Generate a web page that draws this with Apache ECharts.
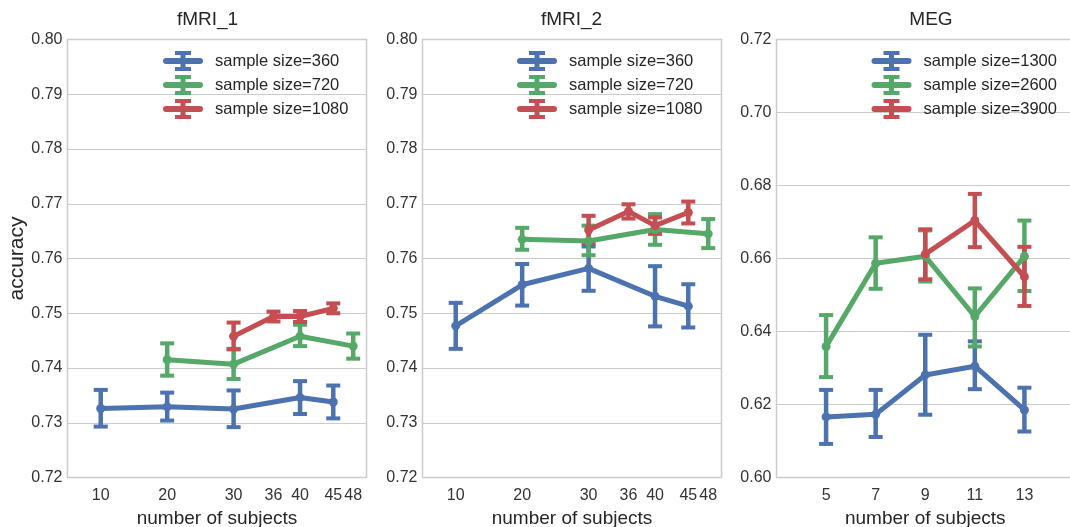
<!DOCTYPE html>
<html>
<head>
<meta charset="utf-8">
<script src="https://cdn.jsdelivr.net/npm/echarts@6/dist/echarts.min.js"></script>
<style>
  html, body { margin: 0; padding: 0; background: #fff; }
  #chart { width: 1070px; height: 527px; }
</style>
</head>
<body>
<div id="chart"></div>
<script>
// ---- data ---------------------------------------------------------------
const panelTitles = ['fMRI_1', 'fMRI_2', 'MEG'];

const fmriTicks = [10, 20, 30, 36, 40, 45, 48];
const megTicks = [5, 7, 9, 11, 13];

const fmriSizes = ['sample size=360', 'sample size=720', 'sample size=1080'];
const megSizes = ['sample size=1300', 'sample size=2600', 'sample size=3900'];

// number of subjects per curve
const fmriSubjects = [[10, 20, 30, 40, 45], [20, 30, 40, 48], [30, 36, 40, 45]];
const megSubjects = [[5, 7, 9, 11, 13], [5, 7, 9, 11, 13], [9, 11, 13]];

// fMRI_1: mean accuracy and confidence interval
const fmri1Mean = [
  [0.7326, 0.7329, 0.7325, 0.7346, 0.7338],
  [0.7415, 0.7407, 0.7458, 0.7440],
  [0.7458, 0.7494, 0.7494, 0.7509]
];
const fmri1Low = [
  [0.7293, 0.7304, 0.7292, 0.7316, 0.7308],
  [0.7386, 0.7380, 0.7440, 0.7417],
  [0.7434, 0.7485, 0.7484, 0.7500]
];
const fmri1High = [
  [0.7360, 0.7355, 0.7359, 0.7376, 0.7368],
  [0.7445, 0.7435, 0.7479, 0.7463],
  [0.7483, 0.7503, 0.7504, 0.7518]
];

// fMRI_2
const fmri2Mean = [
  [0.7477, 0.7552, 0.7582, 0.7531, 0.7513],
  [0.7635, 0.7632, 0.7653, 0.7645],
  [0.7652, 0.7686, 0.7660, 0.7684]
];
const fmri2Low = [
  [0.7435, 0.7514, 0.7541, 0.7476, 0.7474],
  [0.7616, 0.7606, 0.7625, 0.7619],
  [0.7628, 0.7673, 0.7645, 0.7664]
];
const fmri2High = [
  [0.7519, 0.7590, 0.7622, 0.7586, 0.7553],
  [0.7656, 0.7660, 0.7681, 0.7672],
  [0.7678, 0.7699, 0.7675, 0.7704]
];

// MEG
const megMean = [
  [0.6166, 0.6173, 0.6281, 0.6305, 0.6185],
  [0.6359, 0.6587, 0.6606, 0.6441, 0.6606],
  [0.6612, 0.6704, 0.6550]
];
const megLow = [
  [0.6092, 0.6111, 0.6172, 0.6242, 0.6126],
  [0.6275, 0.6517, 0.6537, 0.6359, 0.6511],
  [0.6543, 0.6631, 0.6470]
];
const megHigh = [
  [0.6240, 0.6240, 0.6391, 0.6373, 0.6246],
  [0.6445, 0.6658, 0.6677, 0.6518, 0.6704],
  [0.6680, 0.6777, 0.6632]
];

// ---- style --------------------------------------------------------------
const FONT = '"Liberation Sans", Arial, sans-serif';
const TEXT = '#262626';
const TICK_TEXT = '#333333';
const GRID_LINE = '#cccccc';
const COLORS = ['#4C72B0', '#55A868', '#C44E52'];

// legend glyph: line with an error bar through its middle
const ERR_ICON = 'path://M3,7L37,7A3,3,0,0,1,37,13L3,13A3,3,0,0,1,3,7Z' +
  'M17.5,0L22.5,0L22.5,20L17.5,20Z' +
  'M12,0L28,0L28,4L12,4Z' +
  'M12,16L28,16L28,20L12,20Z';

const panels = [
  { title: panelTitles[0], titleX: 207.5, left: 67.5, width: 299,
    xMin: 5, xMax: 50, xTicks: fmriTicks, yMin: 0.72, yMax: 0.80, yStep: 0.01,
    legendLeft: 163, sizes: fmriSizes, xs: fmriSubjects,
    mean: fmri1Mean, low: fmri1Low, high: fmri1High, yName: 'accuracy' },
  { title: panelTitles[1], titleX: 571.5, left: 422.5, width: 299,
    xMin: 5, xMax: 50, xTicks: fmriTicks, yMin: 0.72, yMax: 0.80, yStep: 0.01,
    legendLeft: 517, sizes: fmriSizes, xs: fmriSubjects,
    mean: fmri2Mean, low: fmri2Low, high: fmri2High, yName: '' },
  { title: panelTitles[2], titleX: 931, left: 776.5, width: 297.5,
    xMin: 3, xMax: 15, xTicks: megTicks, yMin: 0.60, yMax: 0.72, yStep: 0.02,
    legendLeft: 871.5, sizes: megSizes, xs: megSubjects,
    mean: megMean, low: megLow, high: megHigh, yName: '' }
];

function errorBarRenderer(color) {
  return function (params, api) {
    const x = api.value(0);
    const pLo = api.coord([x, api.value(1)]);
    const pHi = api.coord([x, api.value(2)]);
    const hw = 7;
    const stem = { stroke: color, lineWidth: 4.5, lineCap: 'butt' };
    const cap = { stroke: color, lineWidth: 4, lineCap: 'butt' };
    return {
      type: 'group',
      children: [
        { type: 'line', shape: { x1: pLo[0], y1: pLo[1], x2: pHi[0], y2: pHi[1] }, style: stem },
        { type: 'line', shape: { x1: pHi[0] - hw, y1: pHi[1], x2: pHi[0] + hw, y2: pHi[1] }, style: cap },
        { type: 'line', shape: { x1: pLo[0] - hw, y1: pLo[1], x2: pLo[0] + hw, y2: pLo[1] }, style: cap }
      ]
    };
  };
}

const grids = [], xAxes = [], yAxes = [], legends = [], series = [], titles = [];

panels.forEach((p, i) => {
  grids.push({
    left: p.left, top: 39.5, width: p.width, height: 438,
    containLabel: false, outerBoundsMode: 'none',
    show: true, backgroundColor: '#ffffff', borderColor: GRID_LINE, borderWidth: 1.5
  });
  xAxes.push({
    gridIndex: i, type: 'value', min: p.xMin, max: p.xMax,
    axisLine: { show: false }, axisTick: { show: false }, splitLine: { show: false },
    axisLabel: { customValues: p.xTicks, fontFamily: FONT, fontSize: 16, color: TICK_TEXT, margin: 10.5 },
    name: 'number of subjects', nameLocation: 'middle', nameGap: 31,
    nameTextStyle: { fontFamily: FONT, fontSize: 19, color: TEXT }
  });
  yAxes.push({
    gridIndex: i, type: 'value', min: p.yMin, max: p.yMax, interval: p.yStep,
    axisLine: { show: false }, axisTick: { show: false },
    splitLine: { show: true, lineStyle: { color: GRID_LINE, width: 1.2 } },
    axisLabel: { formatter: (v) => v.toFixed(2), fontFamily: FONT, fontSize: 16, color: TICK_TEXT, margin: 5 },
    name: p.yName, nameLocation: 'middle', nameGap: 40,
    nameTextStyle: { fontFamily: FONT, fontSize: 21, color: TEXT }
  });
  legends.push({
    left: p.legendLeft, top: 51, orient: 'vertical', padding: 0,
    itemWidth: 40, itemHeight: 20, itemGap: 4, icon: ERR_ICON, selectedMode: false,
    itemStyle: { borderWidth: 0 },
    data: p.sizes,
    textStyle: { fontFamily: FONT, fontSize: 16.5, color: TEXT, padding: [0, 0, 0, 7] }
  });
  titles.push({
    type: 'text', x: p.titleX, y: 20,
    style: { text: p.title, font: '19px ' + FONT, fill: TEXT,
             align: 'center', verticalAlign: 'middle', textAlign: 'center', textVerticalAlign: 'middle' }
  });

  p.sizes.forEach((name, j) => {
    const xs = p.xs[j];
    series.push({
      type: 'line', name: name, xAxisIndex: i, yAxisIndex: i,
      data: xs.map((x, k) => [x, p.mean[j][k]]),
      symbol: 'circle', symbolSize: 9,
      itemStyle: { color: COLORS[j], borderWidth: 0 },
      lineStyle: { color: COLORS[j], width: 5, join: 'round', cap: 'round' },
      emphasis: { disabled: true }, animation: false
    });
    series.push({
      type: 'custom', name: name, xAxisIndex: i, yAxisIndex: i,
      data: xs.map((x, k) => [x, p.low[j][k], p.high[j][k]]),
      encode: { x: 0, y: [1, 2] },
      itemStyle: { color: COLORS[j] },
      renderItem: errorBarRenderer(COLORS[j]),
      silent: true, animation: false
    });
  });
});

const chart = echarts.init(document.getElementById('chart'), null, { renderer: 'canvas' });
chart.setOption({
  backgroundColor: '#ffffff',
  animation: false,
  textStyle: { fontFamily: FONT },
  grid: grids,
  xAxis: xAxes,
  yAxis: yAxes,
  legend: legends,
  graphic: titles,
  series: series
});
</script>
</body>
</html>
